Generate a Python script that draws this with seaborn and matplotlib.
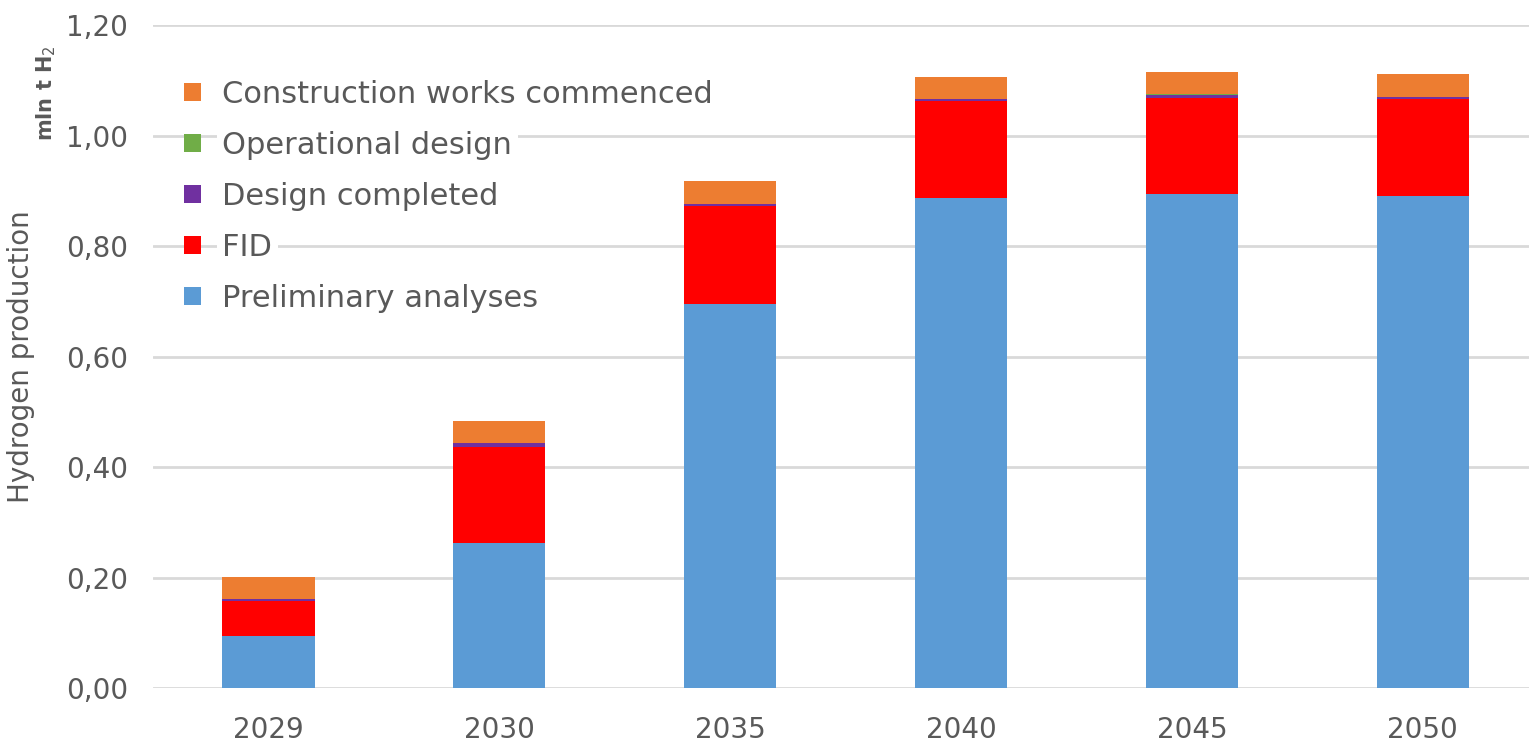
import matplotlib
matplotlib.use("Agg")
import matplotlib.pyplot as plt
import seaborn as sns
import numpy as np

# Hydrogen production by project stage (mln t H2)
years = ["2029", "2030", "2035", "2040", "2045", "2050"]
preliminary = [0.094, 0.263, 0.696, 0.887, 0.894, 0.890]
fid = [0.063, 0.174, 0.177, 0.176, 0.174, 0.176]
design_completed = [0.004, 0.006, 0.004, 0.004, 0.0065, 0.004]
operational_design = [0.0002, 0.0002, 0.0002, 0.0002, 0.0002, 0.0002]
construction = [0.040, 0.041, 0.040, 0.040, 0.041, 0.041]

series = [
    ("Preliminary analyses", preliminary, "#5B9BD5"),
    ("FID", fid, "#FF0000"),
    ("Design completed", design_completed, "#7030A0"),
    ("Operational design", operational_design, "#70AD47"),
    ("Construction works commenced", construction, "#ED7D31"),
]

sns.set_theme(style="white")
plt.rcParams["font.family"] = ["DejaVu Sans"]
text_color = "#595959"

fig = plt.figure(figsize=(15.29, 7.43), dpi=100)
ax = fig.add_axes([0.100, 0.074, 0.900, 0.892])

bottom = np.zeros(len(years))
for name, vals, color in series:
    sns.barplot(x=years, y=vals, bottom=bottom, color=color, width=0.4,
                label=name, ax=ax, saturation=1, linewidth=0)
    bottom += np.array(vals)

ax.set_ylim(0, 1.2)
ax.set_xlim(-0.5, 5.46)
ticks = np.arange(0, 1.21, 0.2)
ax.set_yticks(ticks)
ax.set_yticklabels([f"{t:.2f}".replace(".", ",") for t in ticks])
ax.yaxis.grid(True, color="#D9D9D9", linewidth=2)
ax.set_axisbelow(True)
for s in ax.spines.values():
    s.set_visible(False)
ax.tick_params(axis="x", length=0, labelsize=20, colors=text_color, pad=20)
ax.tick_params(axis="y", length=0, labelsize=20, colors=text_color, pad=18)
ax.set_ylabel("Hydrogen production", fontsize=20, color=text_color, labelpad=22)

fig.text(0.030, 0.875, "mln t H$_2$", rotation=90, fontsize=15,
         fontweight="bold", color=text_color, ha="center", va="center")

handles, labels = ax.get_legend_handles_labels()
leg = ax.legend(handles[::-1], labels[::-1], loc="upper left",
                bbox_to_anchor=(184 / 1529, 1 - 80 / 743),
                bbox_transform=fig.transFigure, frameon=False,
                fontsize=22, handlelength=0.55, handleheight=0.55,
                handletextpad=0.7, labelspacing=0.72, borderpad=0,
                borderaxespad=0)
for t in leg.get_texts():
    t.set_color(text_color)
    t.set_bbox(dict(facecolor="white", edgecolor="none", pad=4))

fig.savefig("out.png", dpi=100)
